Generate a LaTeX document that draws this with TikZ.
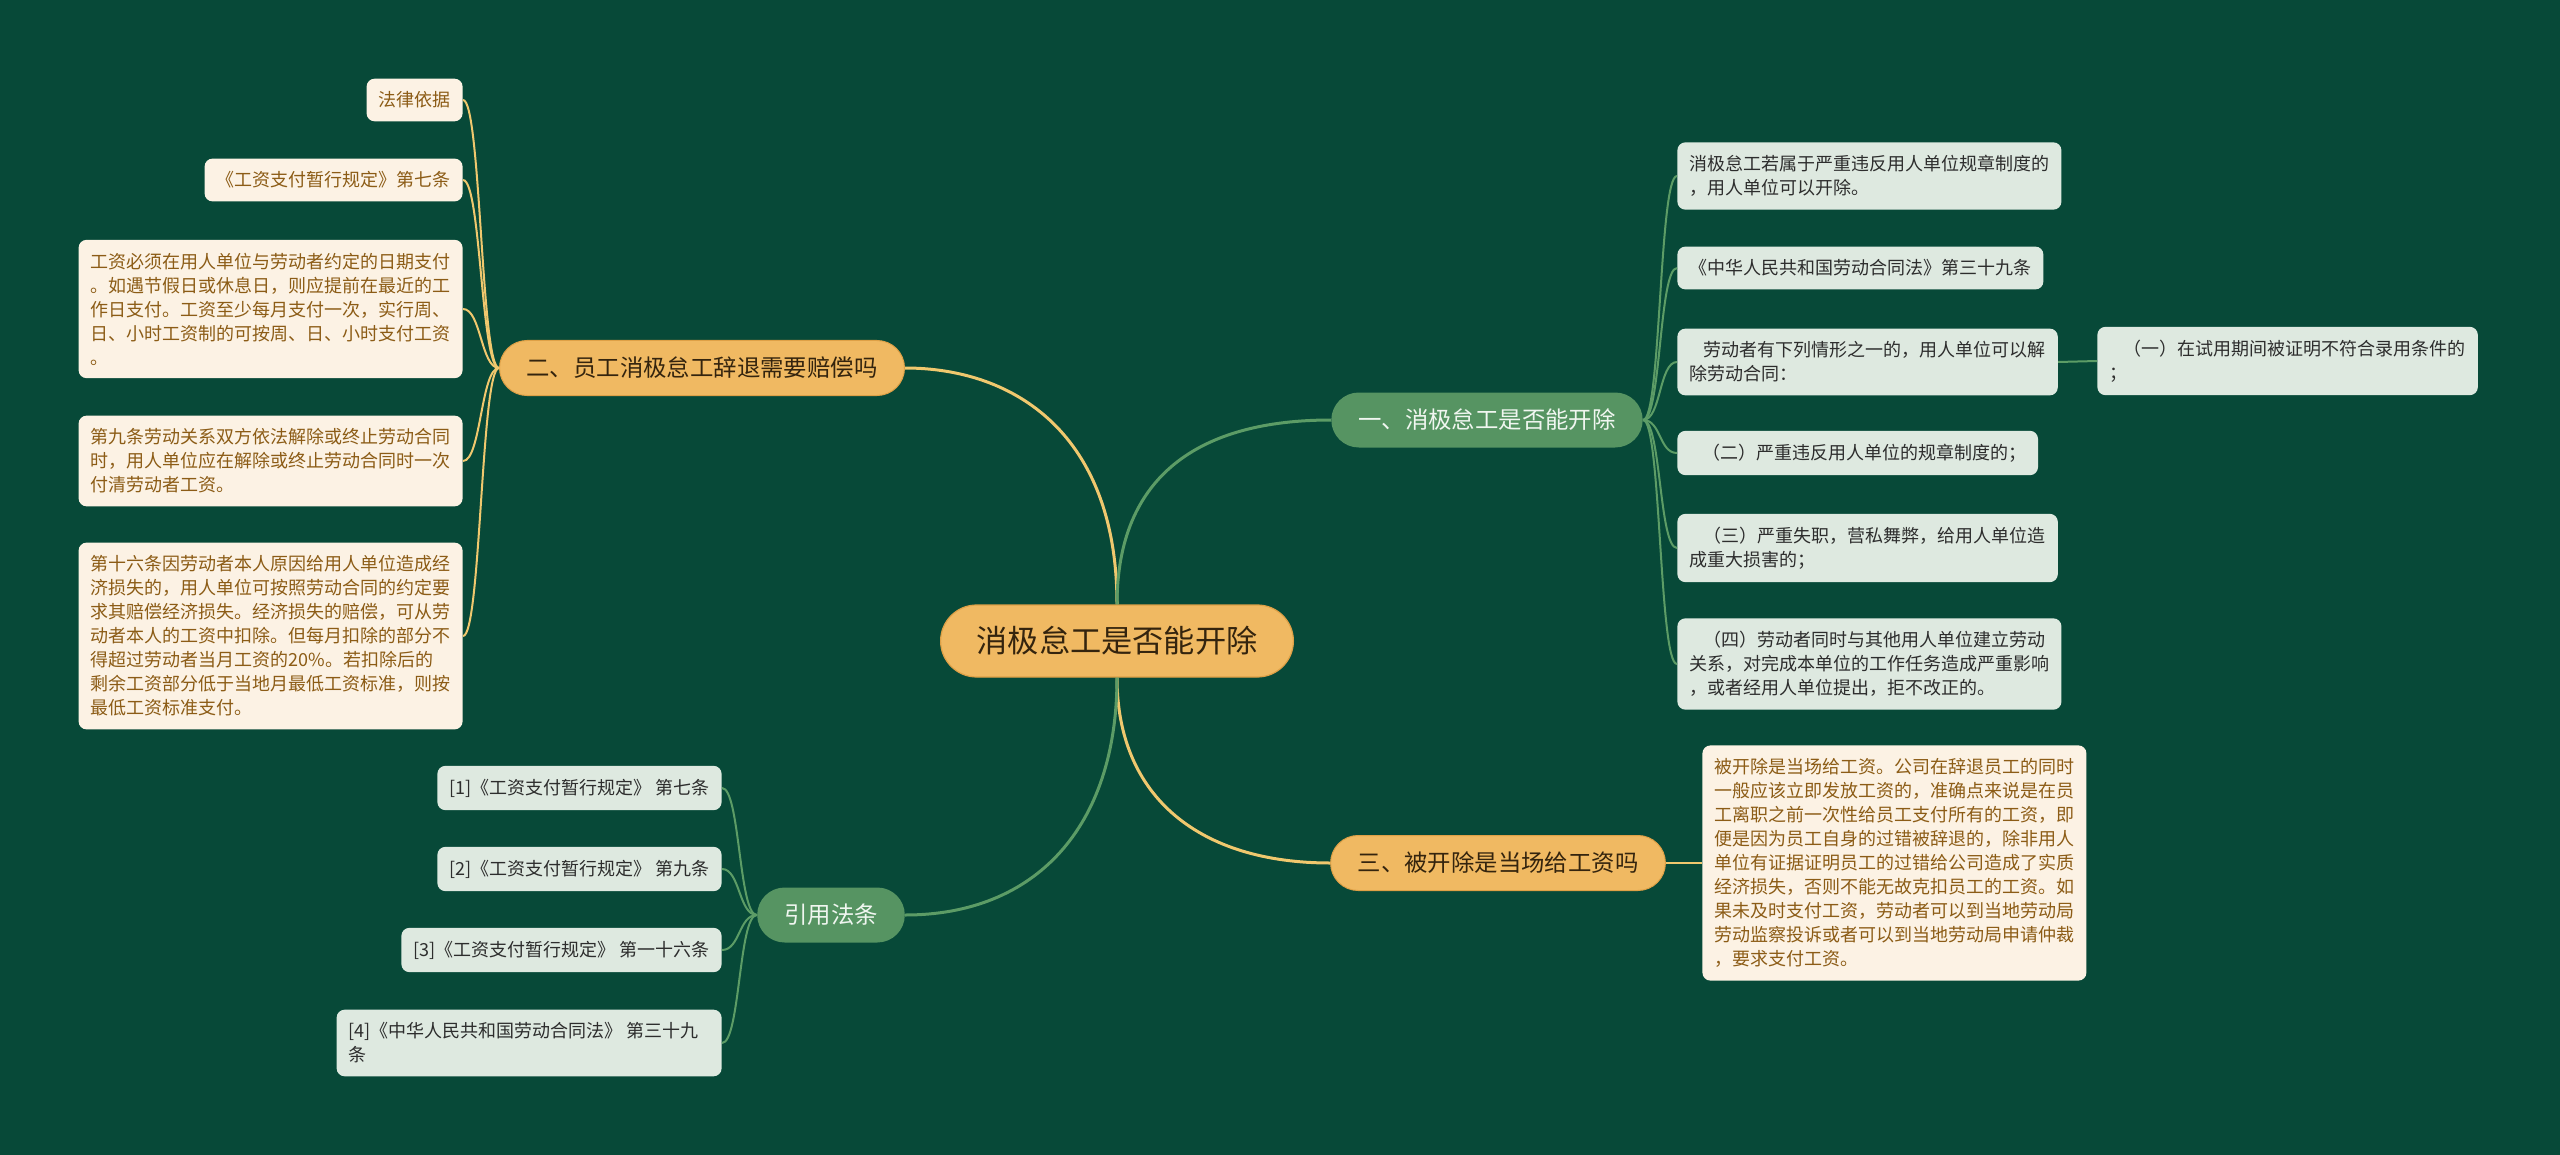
\documentclass[tikz,border=0pt]{standalone}
\usepackage{fontspec}
\setmainfont{Noto Sans CJK SC}
\definecolor{bgcol}{RGB}{7,73,56}
\definecolor{topicfill}{RGB}{240,185,98}
\definecolor{topicedge}{RGB}{222,160,70}
\definecolor{topictext}{RGB}{52,36,14}
\definecolor{greenfill}{RGB}{86,148,98}
\definecolor{greentext}{RGB}{240,246,240}
\definecolor{creamfill}{RGB}{252,242,228}
\definecolor{creamtext}{RGB}{140,92,22}
\definecolor{mintfill}{RGB}{222,233,224}
\definecolor{minttext}{RGB}{45,45,45}
\definecolor{yline}{RGB}{240,200,110}
\definecolor{gline}{RGB}{92,156,102}
\tikzset{
  topic/.style={fill=topicfill,draw=topicedge,line width=0.6pt,rounded corners=18pt,
    minimum height=36pt,inner xsep=18pt,inner ysep=0pt,text=topictext,
    font=\fontsize{15.6}{18}\selectfont},
  branch/.style={rounded corners=13.75pt,minimum height=27.5pt,inner xsep=13.5pt,
    inner ysep=0pt,font=\fontsize{11.7}{14}\selectfont},
  ybranch/.style={branch,fill=topicfill,draw=topicedge,line width=0.5pt,text=topictext},
  gbranch/.style={branch,fill=greenfill,text=greentext},
  leaf/.style={rounded corners=4pt,inner xsep=6pt,inner ysep=6.5pt,align=left,
    font=\fontsize{9}{12}\selectfont},
  yleaf/.style={leaf,fill=creamfill,text=creamtext},
  gleaf/.style={leaf,fill=mintfill,text=minttext},
  ylink/.style={draw=yline,line width=1pt},
  glink/.style={draw=gline,line width=1pt}
}
\begin{document}
\begin{tikzpicture}[x=0.5pt,y=-0.5pt]
  \fill[bgcol] (0,0) rectangle (2560,1155);
  \useasboundingbox (0,0) rectangle (2560,1155);

  \node[topic] (root) at (1117,641) {消极怠工是否能开除};
  \node[ybranch] (two) at (702,368) {二、员工消极怠工辞退需要赔偿吗};
  \node[gbranch] (one) at (1487,420) {一、消极怠工是否能开除};
  \node[ybranch] (three) at (1498,863) {三、被开除是当场给工资吗};
  \node[gbranch] (cite) at (831,915) {引用法条};

  \node[yleaf,anchor=east] (two1) at (463,100) {法律依据};
  \node[yleaf,anchor=east] (two2) at (463,180) {《工资支付暂行规定》第七条};
  \node[yleaf,anchor=east] (two3) at (463,309) {工资必须在用人单位与劳动者约定的日期支付\\。如遇节假日或休息日，则应提前在最近的工\\作日支付。工资至少每月支付一次，实行周、\\日、小时工资制的可按周、日、小时支付工资\\。};
  \node[yleaf,anchor=east] (two4) at (463,461) {第九条劳动关系双方依法解除或终止劳动合同\\时，用人单位应在解除或终止劳动合同时一次\\付清劳动者工资。};
  \node[yleaf,anchor=east] (two5) at (463,636) {第十六条因劳动者本人原因给用人单位造成经\\济损失的，用人单位可按照劳动合同的约定要\\求其赔偿经济损失。经济损失的赔偿，可从劳\\动者本人的工资中扣除。但每月扣除的部分不\\得超过劳动者当月工资的20\%。若扣除后的\\剩余工资部分低于当地月最低工资标准，则按\\最低工资标准支付。};

  \node[gleaf,anchor=west] (one1) at (1677,176) {消极怠工若属于严重违反用人单位规章制度的\\，用人单位可以开除。};
  \node[gleaf,anchor=west] (one2) at (1677,268) {《中华人民共和国劳动合同法》第三十九条};
  \node[gleaf,anchor=west] (one3) at (1677,362) {\hspace*{0.8em}劳动者有下列情形之一的，用人单位可以解\\除劳动合同：};
  \node[gleaf,anchor=west] (one3a) at (2097,361) {\hspace*{0.8em}（一）在试用期间被证明不符合录用条件的\\；};
  \node[gleaf,anchor=west] (one4) at (1677,453) {\hspace*{0.7em}（二）严重违反用人单位的规章制度的；};
  \node[gleaf,anchor=west] (one5) at (1677,548) {\hspace*{0.8em}（三）严重失职，营私舞弊，给用人单位造\\成重大损害的；};
  \node[gleaf,anchor=west] (one6) at (1677,664) {\hspace*{0.8em}（四）劳动者同时与其他用人单位建立劳动\\关系，对完成本单位的工作任务造成严重影响\\，或者经用人单位提出，拒不改正的。};

  \node[yleaf,anchor=west] (three1) at (1702,863) {被开除是当场给工资。公司在辞退员工的同时\\一般应该立即发放工资的，准确点来说是在员\\工离职之前一次性给员工支付所有的工资，即\\便是因为员工自身的过错被辞退的，除非用人\\单位有证据证明员工的过错给公司造成了实质\\经济损失，否则不能无故克扣员工的工资。如\\果未及时支付工资，劳动者可以到当地劳动局\\劳动监察投诉或者可以到当地劳动局申请仲裁\\，要求支付工资。};

  \node[gleaf,anchor=east] (cite1) at (722,788) {[1]《工资支付暂行规定》 第七条};
  \node[gleaf,anchor=east] (cite2) at (722,869) {[2]《工资支付暂行规定》 第九条};
  \node[gleaf,anchor=east] (cite3) at (722,950) {[3]《工资支付暂行规定》 第一十六条};
  \node[gleaf,anchor=east] (cite4) at (722,1043) {[4]《中华人民共和国劳动合同法》 第三十九\hspace*{0.6em}\\条};

  \draw[ylink,line width=1.5pt] (root.north) .. controls +(0,-170) and +(110,0) .. (two.east);
  \draw[glink,line width=1.5pt] (root.north) .. controls +(0,-130) and +(-130,0) .. (one.west);
  \draw[ylink,line width=1.5pt] (root.south) .. controls +(0,120) and +(-130,0) .. (three.west);
  \draw[glink,line width=1.5pt] (root.south) .. controls +(0,150) and +(130,0) .. (cite.east);

  \foreach \n in {two1,two2,two3,two4,two5}
    \draw[ylink] (two.west) .. controls +(-18,0) and +(18,0) .. (\n.east);
  \foreach \n in {one1,one2,one3,one4,one5,one6}
    \draw[glink] (one.east) .. controls +(18,0) and +(-18,0) .. (\n.west);
  \foreach \n in {cite1,cite2,cite3,cite4}
    \draw[glink] (cite.west) .. controls +(-18,0) and +(18,0) .. (\n.east);
  \draw[glink] (one3.east) -- (one3a.west);
  \draw[ylink] (three.east) -- (three1.west);
\end{tikzpicture}
\end{document}
